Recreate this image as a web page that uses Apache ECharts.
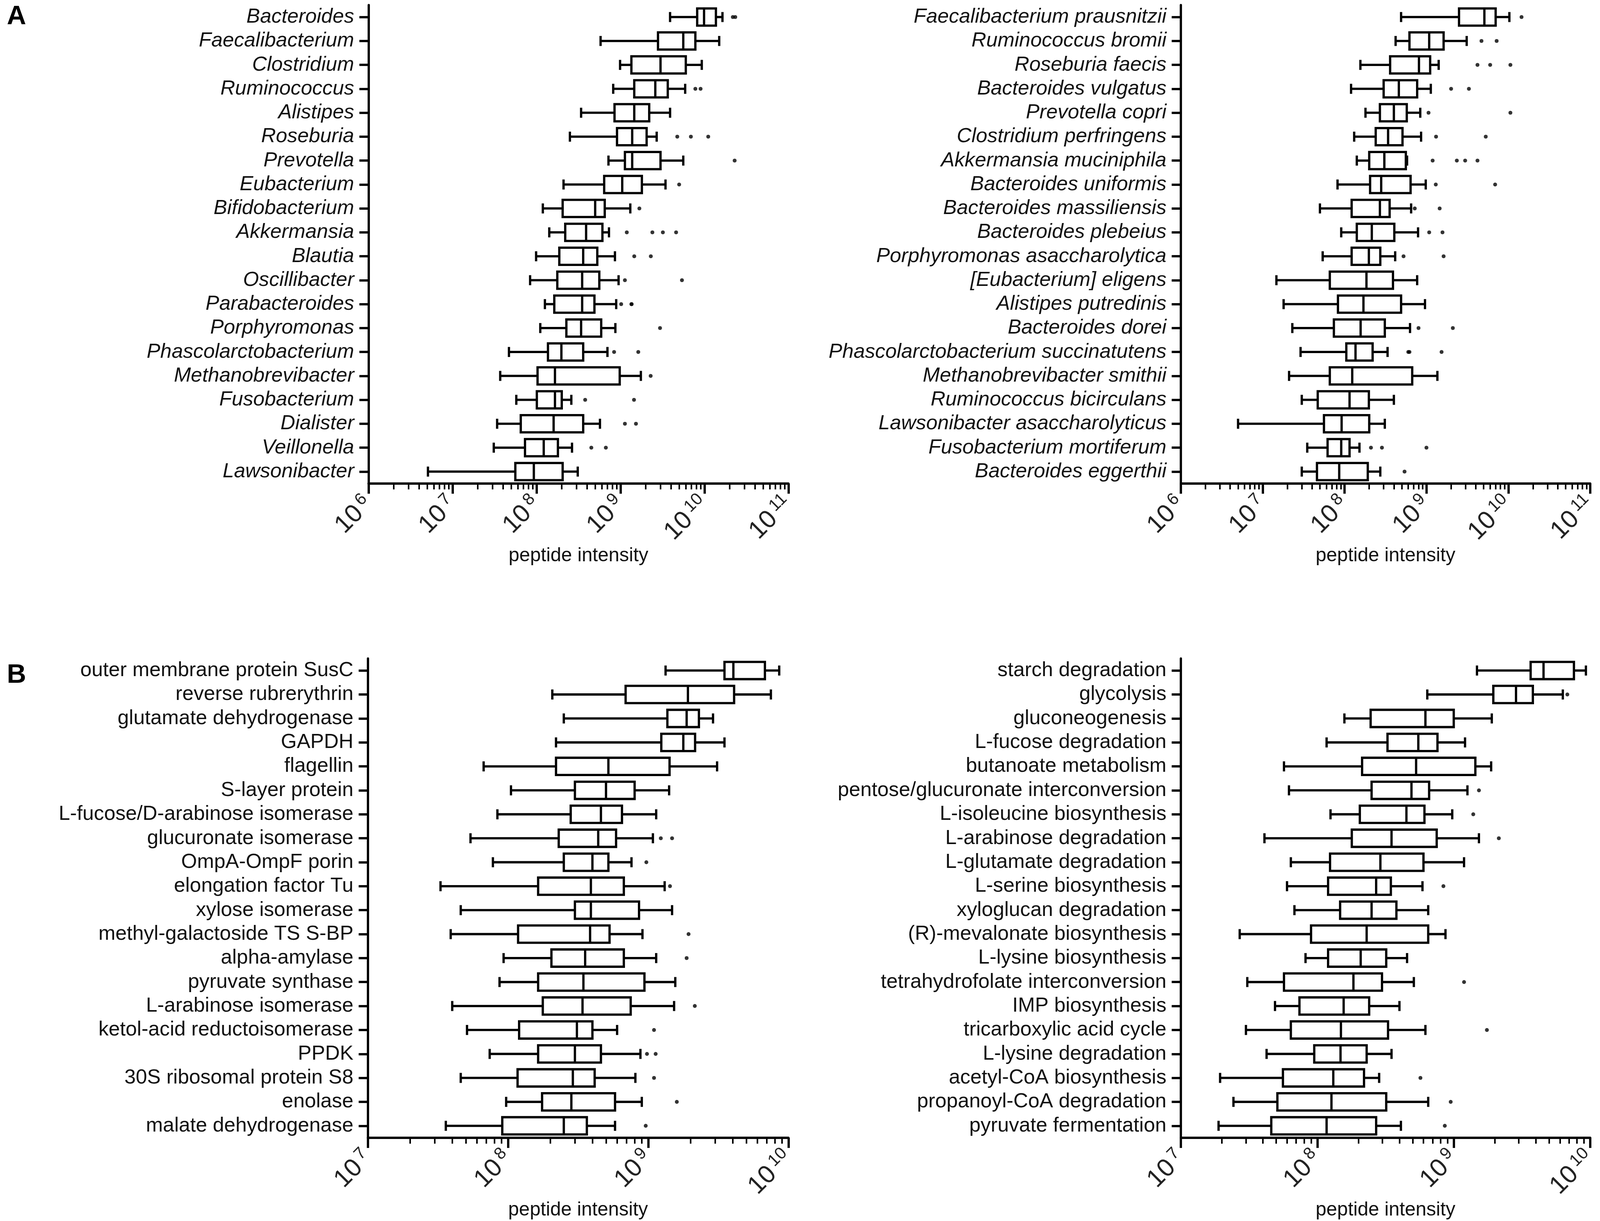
<!DOCTYPE html>
<html>
<head>
<meta charset="utf-8">
<title>peptide intensity boxplots</title>
<script src="https://cdn.jsdelivr.net/npm/echarts@6/dist/echarts.min.js"></script>
<style>
  html, body { margin: 0; padding: 0; background: #fff; overflow: hidden; }
  #plot { width: 100vw; height: 100vh; }
</style>
</head>
<body>
<div id="plot"></div>
<script>
// ---- A, left: genera ----
const genusLabels = ['Bacteroides', 'Faecalibacterium', 'Clostridium', 'Ruminococcus', 'Alistipes',
    'Roseburia', 'Prevotella', 'Eubacterium', 'Bifidobacterium', 'Akkermansia', 'Blautia',
    'Oscillibacter', 'Parabacteroides', 'Porphyromonas', 'Phascolarctobacterium',
    'Methanobrevibacter', 'Fusobacterium', 'Dialister', 'Veillonella', 'Lawsonibacter'];
// [whisker low, Q1, median, Q3, whisker high]
const genusStats = [
    [3.9e9, 8.2e9, 9.9e9, 1.37e10, 1.64e10],
    [5.8e8, 2.8e9, 5.6e9, 7.8e9, 1.5e10],
    [9.9e8, 1.35e9, 3.0e9, 6.0e9, 9.3e9],
    [8.2e8, 1.46e9, 2.6e9, 3.66e9, 5.9e9],
    [3.4e8, 8.5e8, 1.46e9, 2.2e9, 3.9e9],
    [2.5e8, 9.1e8, 1.38e9, 2.05e9, 2.7e9],
    [7.2e8, 1.13e9, 1.38e9, 3.0e9, 5.6e9],
    [2.1e8, 6.4e8, 1.05e9, 1.8e9, 3.44e9],
    [1.19e8, 2.05e8, 5.0e8, 6.5e8, 1.31e9],
    [1.42e8, 2.2e8, 3.9e8, 6.1e8, 7.3e8],
    [9.9e7, 1.87e8, 3.6e8, 5.3e8, 8.6e8],
    [8.4e7, 1.77e8, 3.5e8, 5.6e8, 9.5e8],
    [1.26e8, 1.63e8, 3.5e8, 4.9e8, 8.9e8],
    [1.11e8, 2.27e8, 3.4e8, 5.9e8, 8.7e8],
    [4.7e7, 1.37e8, 1.98e8, 3.6e8, 7.0e8],
    [3.7e7, 1.03e8, 1.66e8, 9.8e8, 1.75e9],
    [5.75e7, 1.01e8, 1.66e8, 2.0e8, 2.6e8],
    [3.4e7, 6.5e7, 1.6e8, 3.6e8, 5.7e8],
    [3.1e7, 7.3e7, 1.22e8, 1.8e8, 2.65e8],
    [5.1e6, 5.6e7, 9.3e7, 2.05e8, 3.1e8]
];
const genusOutliers = [
    [2.18e10, 2.33e10], [], [], [7.8e9, 9.0e9], [], [4.75e9, 6.9e9, 1.11e10], [2.29e10],
    [5.0e9], [1.68e9], [1.19e9, 2.4e9, 3.2e9, 4.6e9], [1.46e9, 2.3e9], [1.13e9, 5.4e9],
    [1.02e9, 1.35e9, 1.36e9], [2.96e9], [8.4e8, 1.63e9], [2.29e9], [3.8e8, 1.45e9],
    [1.13e9, 1.53e9], [4.5e8, 6.7e8], []
];

// ---- A, right: species ----
const speciesLabels = ['Faecalibacterium prausnitzii', 'Ruminococcus bromii', 'Roseburia faecis',
    'Bacteroides vulgatus', 'Prevotella copri', 'Clostridium perfringens', 'Akkermansia muciniphila',
    'Bacteroides uniformis', 'Bacteroides massiliensis', 'Bacteroides plebeius',
    'Porphyromonas asaccharolytica', '[Eubacterium] eligens', 'Alistipes putredinis',
    'Bacteroides dorei', 'Phascolarctobacterium succinatutens', 'Methanobrevibacter smithii',
    'Ruminococcus bicirculans', 'Lawsonibacter asaccharolyticus', 'Fusobacterium mortiferum',
    'Bacteroides eggerthii'];
const speciesStats = [
    [4.9e8, 2.5e9, 5.1e9, 7.0e9, 1.03e10],
    [4.2e8, 6.2e8, 1.08e9, 1.62e9, 3.1e9],
    [1.56e8, 3.6e8, 8.1e8, 1.11e9, 1.41e9],
    [1.2e8, 3.0e8, 4.6e8, 7.7e8, 1.13e9],
    [1.8e8, 2.7e8, 4.0e8, 5.75e8, 8.4e8],
    [1.31e8, 2.4e8, 3.4e8, 5.1e8, 8.6e8],
    [1.41e8, 2.0e8, 3.06e8, 5.6e8, 5.8e8],
    [8.2e7, 2.05e8, 2.8e8, 6.4e8, 9.8e8],
    [5.0e7, 1.22e8, 2.7e8, 3.55e8, 6.5e8],
    [9.1e7, 1.41e8, 2.15e8, 4.05e8, 7.9e8],
    [5.4e7, 1.22e8, 1.98e8, 2.73e8, 4.15e8],
    [1.47e7, 6.6e7, 1.85e8, 3.9e8, 7.7e8],
    [1.8e7, 8.3e7, 1.7e8, 4.9e8, 9.6e8],
    [2.3e7, 7.4e7, 1.57e8, 3.1e8, 6.3e8],
    [2.9e7, 1.05e8, 1.36e8, 2.2e8, 3.35e8],
    [2.1e7, 6.6e7, 1.24e8, 6.7e8, 1.36e9],
    [3.0e7, 4.7e7, 1.15e8, 1.98e8, 4.0e8],
    [5.0e6, 5.6e7, 9.2e7, 2.0e8, 3.1e8],
    [3.5e7, 6.2e7, 9.1e7, 1.15e8, 1.52e8],
    [3.0e7, 4.6e7, 8.6e7, 1.92e8, 2.73e8]
];
const speciesOutliers = [
    [1.45e10], [4.7e9, 7.2e9], [4.2e9, 6.0e9, 1.06e10], [2.0e9, 3.3e9], [1.06e9, 1.06e10],
    [1.31e9, 5.3e9], [1.19e9, 2.35e9, 2.97e9, 4.2e9], [1.3e9, 6.9e9], [7.2e8, 1.45e9],
    [1.08e9, 1.57e9], [5.25e8, 1.62e9], [], [], [8.0e8, 2.1e9], [6.0e8, 6.2e8, 1.53e9],
    [], [], [], [2.1e8, 2.86e8, 1.0e9], [5.4e8]
];

// ---- B, left: proteins ----
const proteinLabels = ['outer membrane protein SusC', 'reverse rubrerythrin', 'glutamate dehydrogenase',
    'GAPDH', 'flagellin', 'S-layer protein', 'L-fucose/D-arabinose isomerase', 'glucuronate isomerase',
    'OmpA-OmpF porin', 'elongation factor Tu', 'xylose isomerase', 'methyl-galactoside TS S-BP',
    'alpha-amylase', 'pyruvate synthase', 'L-arabinose isomerase', 'ketol-acid reductoisomerase',
    'PPDK', '30S ribosomal protein S8', 'enolase', 'malate dehydrogenase'];
const proteinStats = [
    [1.33e9, 3.5e9, 4.05e9, 6.8e9, 8.6e9],
    [2.07e8, 6.9e8, 1.92e9, 4.1e9, 7.5e9],
    [2.5e8, 1.37e9, 1.88e9, 2.3e9, 2.9e9],
    [2.2e8, 1.24e9, 1.78e9, 2.16e9, 3.5e9],
    [6.7e7, 2.2e8, 5.2e8, 1.42e9, 3.1e9],
    [1.05e8, 3.0e8, 5.0e8, 8.0e8, 1.41e9],
    [8.4e7, 2.8e8, 4.6e8, 6.5e8, 1.14e9],
    [5.4e7, 2.3e8, 4.4e8, 5.9e8, 1.08e9],
    [7.8e7, 2.5e8, 4.0e8, 5.2e8, 7.6e8],
    [3.3e7, 1.64e8, 3.9e8, 6.7e8, 1.31e9],
    [4.6e7, 3.0e8, 3.9e8, 8.6e8, 1.48e9],
    [3.9e7, 1.18e8, 3.85e8, 5.3e8, 9.1e8],
    [9.3e7, 2.04e8, 3.55e8, 6.7e8, 1.14e9],
    [8.7e7, 1.64e8, 3.45e8, 9.4e8, 1.56e9],
    [4.0e7, 1.77e8, 3.4e8, 7.5e8, 1.53e9],
    [5.1e7, 1.2e8, 3.1e8, 4.0e8, 6.0e8],
    [7.4e7, 1.64e8, 3.0e8, 4.6e8, 8.8e8],
    [4.6e7, 1.17e8, 2.9e8, 4.15e8, 8.1e8],
    [9.7e7, 1.75e8, 2.83e8, 5.8e8, 9.0e8],
    [3.6e7, 9.1e7, 2.5e8, 3.65e8, 5.8e8]
];
const proteinOutliers = [
    [], [], [], [], [], [], [], [1.23e9, 1.48e9], [9.7e8], [1.43e9], [], [1.94e9], [1.88e9],
    [], [2.15e9], [1.1e9], [9.8e8, 1.13e9], [1.1e9], [1.6e9], [9.6e8]
];

// ---- B, right: pathways ----
const pathwayLabels = ['starch degradation', 'glycolysis', 'gluconeogenesis', 'L-fucose degradation',
    'butanoate metabolism', 'pentose/glucuronate interconversion', 'L-isoleucine biosynthesis',
    'L-arabinose degradation', 'L-glutamate degradation', 'L-serine biosynthesis',
    'xyloglucan degradation', '(R)-mevalonate biosynthesis', 'L-lysine biosynthesis',
    'tetrahydrofolate interconversion', 'IMP biosynthesis', 'tricarboxylic acid cycle',
    'L-lysine degradation', 'acetyl-CoA biosynthesis', 'propanoyl-CoA degradation',
    'pyruvate fermentation'];
const pathwayStats = [
    [1.48e9, 3.66e9, 4.55e9, 7.6e9, 9.3e9],
    [6.4e8, 1.95e9, 2.86e9, 3.8e9, 6.3e9],
    [1.58e8, 2.46e8, 6.2e8, 1.0e9, 1.9e9],
    [1.17e8, 3.27e8, 5.5e8, 7.6e8, 1.21e9],
    [5.7e7, 2.13e8, 5.3e8, 1.44e9, 1.88e9],
    [6.2e7, 2.5e8, 4.9e8, 6.6e8, 1.26e9],
    [1.25e8, 2.05e8, 4.5e8, 6.1e8, 9.75e8],
    [4.1e7, 1.79e8, 3.5e8, 7.5e8, 1.53e9],
    [6.4e7, 1.24e8, 2.9e8, 6.0e8, 1.19e9],
    [6.0e7, 1.2e8, 2.7e8, 3.46e8, 5.9e8],
    [6.8e7, 1.47e8, 2.5e8, 3.8e8, 6.5e8],
    [2.7e7, 9.0e7, 2.3e8, 6.5e8, 8.7e8],
    [8.2e7, 1.2e8, 2.08e8, 3.2e8, 4.55e8],
    [3.07e7, 5.7e7, 1.84e8, 2.98e8, 5.1e8],
    [4.9e7, 7.4e7, 1.56e8, 2.4e8, 4.0e8],
    [3.0e7, 6.4e7, 1.49e8, 3.3e8, 6.2e8],
    [4.25e7, 9.5e7, 1.48e8, 2.3e8, 3.5e8],
    [1.94e7, 5.6e7, 1.31e8, 2.2e8, 2.84e8],
    [2.43e7, 5.1e7, 1.27e8, 3.2e8, 6.5e8],
    [1.89e7, 4.6e7, 1.17e8, 2.7e8, 4.1e8]
];
const pathwayOutliers = [
    [], [6.8e9], [], [], [], [1.53e9], [1.39e9], [2.14e9], [], [8.4e8], [], [], [],
    [1.19e9], [], [1.75e9], [], [5.7e8], [9.5e8], [8.6e8]
];

const FONT = '"Liberation Sans", Arial, Helvetica, sans-serif';
const INK = '#111';

// the layout is designed on a 4550 x 3126 page; scale it to the real viewport
const chartDom = document.getElementById('plot');
const sx = chartDom.clientWidth / 4550;
const sy = chartDom.clientHeight / 3126;
const sf = Math.min(sx, sy);
const X = v => v * sx, Y = v => v * sy, F = v => v * sf;

// panel layout (design px): left, top, width, height
const panels = [
    { labels: genusLabels, stats: genusStats, outliers: genusOutliers, italic: true,
      min: 1e6, max: 1e11, grid: [1048, 13, 1194, 1225] },
    { labels: speciesLabels, stats: speciesStats, outliers: speciesOutliers, italic: true,
      min: 1e6, max: 1e11, grid: [3358, 13, 1194, 1225] },
    { labels: proteinLabels, stats: proteinStats, outliers: proteinOutliers, italic: false,
      min: 1e7, max: 1e10, grid: [1046, 1686, 1196, 1227] },
    { labels: pathwayLabels, stats: pathwayStats, outliers: pathwayOutliers, italic: false,
      min: 1e7, max: 1e10, grid: [3358, 1686, 1194, 1227] }
];

const LW = F(6.5);

function renderBox(params, api) {
    const cat = api.value(0);
    const lo = api.coord([api.value(1), cat]);
    const q1 = api.coord([api.value(2), cat]);
    const md = api.coord([api.value(3), cat]);
    const q3 = api.coord([api.value(4), cat]);
    const hi = api.coord([api.value(5), cat]);
    const band = api.size([1, 1])[1];
    const bh = band * 0.72;   // box height
    const ch = band * 0.42;   // whisker cap height
    const y = lo[1];
    const line = { stroke: '#000', lineWidth: LW, fill: null };
    return {
        type: 'group',
        children: [
            { type: 'line', shape: { x1: lo[0], y1: y, x2: q1[0], y2: y }, style: line },
            { type: 'line', shape: { x1: q3[0], y1: y, x2: hi[0], y2: y }, style: line },
            { type: 'line', shape: { x1: lo[0], y1: y - ch / 2, x2: lo[0], y2: y + ch / 2 }, style: line },
            { type: 'line', shape: { x1: hi[0], y1: y - ch / 2, x2: hi[0], y2: y + ch / 2 }, style: line },
            { type: 'rect', shape: { x: q1[0], y: y - bh / 2, width: q3[0] - q1[0], height: bh },
              style: { stroke: '#000', lineWidth: LW, fill: '#fff' } },
            { type: 'line', shape: { x1: md[0], y1: y - bh / 2, x2: md[0], y2: y + bh / 2 }, style: line }
        ]
    };
}

function expLabel(value) {
    const e = Math.round(Math.log10(value));
    return '{b|10}{e|' + e + '}';
}

const grids = [], xAxes = [], yAxes = [], series = [];
panels.forEach((p, i) => {
    grids.push({ left: X(p.grid[0]), top: Y(p.grid[1]), width: X(p.grid[2]), height: Y(p.grid[3]) });
    xAxes.push({
        type: 'log',
        logBase: 10,
        gridIndex: i,
        min: p.min,
        max: p.max,
        name: 'peptide intensity',
        nameLocation: 'middle',
        nameGap: Y(160),
        nameTextStyle: { fontFamily: FONT, fontSize: F(55), color: INK },
        axisLine: { show: true, onZero: false, lineStyle: { color: '#000', width: LW } },
        axisTick: { show: true, length: Y(26), lineStyle: { color: '#000', width: LW } },
        minorTick: { show: true, splitNumber: 9, length: Y(15), lineStyle: { color: '#000', width: F(4.5) } },
        splitLine: { show: false },
        axisLabel: {
            rotate: 45,
            margin: F(48),
            color: '#222',
            formatter: expLabel,
            rich: {
                b: { fontFamily: FONT, fontSize: F(72), color: '#222', lineHeight: F(80) },
                e: { fontFamily: FONT, fontSize: F(48), color: '#222', verticalAlign: 'top',
                     padding: [0, 0, 0, F(10)] }
            }
        }
    });
    yAxes.push({
        type: 'category',
        gridIndex: i,
        inverse: true,
        data: p.labels,
        axisLine: { show: true, lineStyle: { color: '#000', width: LW } },
        axisTick: { show: true, alignWithLabel: true, length: X(26), lineStyle: { color: '#000', width: LW } },
        splitLine: { show: false },
        axisLabel: {
            interval: 0,
            margin: X(41),
            fontFamily: FONT,
            fontSize: F(58),
            fontStyle: p.italic ? 'italic' : 'normal',
            color: INK
        }
    });
    series.push({
        type: 'custom',
        xAxisIndex: i,
        yAxisIndex: i,
        renderItem: renderBox,
        encode: { x: [1, 2, 3, 4, 5], y: 0 },
        data: p.stats.map((s, k) => [k].concat(s)),
        z: 2
    });
    const pts = [];
    p.outliers.forEach((list, k) => list.forEach(v => pts.push([v, k])));
    series.push({
        type: 'scatter',
        xAxisIndex: i,
        yAxisIndex: i,
        symbol: 'circle',
        symbolSize: F(11),
        itemStyle: { color: '#000' },
        data: pts,
        z: 3
    });
});

const myChart = echarts.init(chartDom);
myChart.setOption({
    backgroundColor: '#fff',
    animation: false,
    title: [
        { text: 'A', left: X(14), top: Y(4),
          textStyle: { fontFamily: FONT, fontSize: F(76), fontWeight: 'bold', color: '#000' } },
        { text: 'B', left: X(14), top: Y(1690),
          textStyle: { fontFamily: FONT, fontSize: F(76), fontWeight: 'bold', color: '#000' } }
    ],
    grid: grids,
    xAxis: xAxes,
    yAxis: yAxes,
    series: series
});
window.addEventListener('resize', () => myChart.resize());
</script>
</body>
</html>
